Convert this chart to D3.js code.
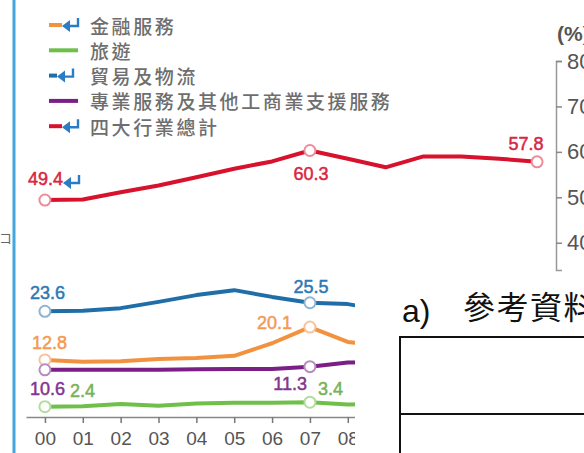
<!DOCTYPE html>
<html><head><meta charset="utf-8">
<script src="https://cdn.jsdelivr.net/npm/d3@7"></script>
<style>html,body{margin:0;padding:0;background:#fff;overflow:hidden}</style>
</head><body><svg id="c" width="584" height="453"></svg>
<script>
// ---- data ----
const years = ["00","01","02","03","04","05","06","07","08","09","10","11","12","13"];
const total        = [49.4,49.5,51.1,52.6,54.4,56.3,57.9,60.3,58.5,56.6,59.0,59.0,58.5,57.8];
const finance      = [12.8,12.4,12.5,13.0,13.2,13.7,16.5,20.1,16.8,15.9,16.3,16.1,15.9,16.5];
const tourism      = [2.4,2.5,3.0,2.6,3.1,3.3,3.3,3.4,2.9,3.0,3.3,4.5,4.7,5.0];
const trade        = [23.6,23.7,24.3,25.7,27.2,28.3,26.8,25.5,25.2,23.8,25.5,25.5,24.6,23.9];
const professional = [10.6,10.6,10.6,10.6,10.7,10.8,10.8,11.3,12.2,12.3,12.4,12.5,12.6,12.4];
const rightTicks = [40,50,60,70,80];
const seriesNames = ["金融服務","旅遊","貿易及物流","專業服務及其他工商業支援服務","四大行業總計"];
const labelledIdx = [0,7];

// ---- setup ----
const svg = d3.select("#c");
const colors = {finance:"#f2923f", tourism:"#6fbf4b", trade:"#1f6ea8", professional:"#7a1f86", total:"#d8112d"};
const pale = {finance:"#f7c49a", tourism:"#b3dc9f", trade:"#8fb4d2", professional:"#b98cc0", total:"#ec8c99"};
const labelColors = {finance:"#f39a52", tourism:"#74b35a", trade:"#2c79b5", professional:"#83358f", total:"#d9253f"};

const x = d3.scalePoint().domain(years).range([26,556]).padding(0.5);
const yUp = d3.scaleLinear().domain([34,80]).range([270,61]);
const yLow = d3.scaleLinear().domain([0,30]).range([417.5,282.5]);

// left blue border
svg.append("line").attr("x1",14).attr("x2",14).attr("y1",0).attr("y2",453)
  .attr("stroke","#45a6db").attr("stroke-width",3);
svg.append("text").attr("x",-1).attr("y",243).attr("font-family","Noto Sans CJK TC")
  .attr("font-size",13).attr("fill","#666").text("コ");

// lower x axis
const xAxis = svg.append("g").attr("transform","translate(0,417)")
  .call(d3.axisBottom(x).tickSize(6).tickSizeOuter(0).tickPadding(9));
xAxis.select(".domain").attr("stroke","#888").attr("stroke-width",1.5);
xAxis.selectAll(".tick line").attr("stroke","#777").attr("stroke-width",1.5);
xAxis.selectAll(".tick text").attr("font-family","Liberation Sans, Arial").attr("font-size",19)
  .attr("fill","#555");

// right axis (upper panel)
const rAxis = svg.append("g").attr("transform","translate(556,0)")
  .call(d3.axisRight(yUp).tickValues(rightTicks).tickSize(6).tickSizeOuter(6).tickPadding(5));
rAxis.select(".domain").attr("stroke","#999").attr("stroke-width",1.5);
rAxis.selectAll(".tick line").attr("stroke","#888").attr("stroke-width",1.5);
rAxis.selectAll(".tick text").attr("font-family","Liberation Sans, Arial").attr("font-size",22)
  .attr("fill","#555");
svg.append("text").attr("x",557).attr("y",41).attr("font-family","Liberation Sans, Arial")
  .attr("font-size",21).attr("font-weight","bold").attr("fill","#555").text("(%)");

// lines
const series = [
  {key:"trade", vals:trade, y:yLow},
  {key:"finance", vals:finance, y:yLow},
  {key:"professional", vals:professional, y:yLow},
  {key:"tourism", vals:tourism, y:yLow},
  {key:"total", vals:total, y:yUp}
];
series.forEach(s=>{
  const line = d3.line().x((d,i)=>x(years[i])).y(d=>s.y(d));
  svg.append("path").datum(s.vals).attr("d",line).attr("fill","none")
    .attr("stroke",colors[s.key]).attr("stroke-width",4).attr("stroke-linejoin","round");
});

// markers
series.forEach(s=>{
  const idx = s.key==="total" ? [0,7,13] : labelledIdx;
  idx.forEach(i=>{
    svg.append("circle").attr("cx",x(years[i])).attr("cy",s.y(s.vals[i])).attr("r",5.5)
      .attr("fill","#fff").attr("stroke",pale[s.key]).attr("stroke-width",2);
  });
});

// value labels
const labelSpecs = [
  {key:"trade", i:0, dx:-15, dy:-12, anchor:"start"},
  {key:"trade", i:7, dx:1, dy:-10, anchor:"middle"},
  {key:"finance", i:0, dx:-13, dy:-11, anchor:"start"},
  {key:"finance", i:7, dx:-18, dy:2, anchor:"end"},
  {key:"professional", i:0, dx:-15, dy:25, anchor:"start"},
  {key:"professional", i:7, dx:-3, dy:23, anchor:"end"},
  {key:"tourism", i:0, dx:25, dy:-10, anchor:"start"},
  {key:"tourism", i:7, dx:8, dy:-7, anchor:"start"},
  {key:"total", i:0, dx:-17, dy:-15, anchor:"start"},
  {key:"total", i:7, dx:1, dy:29, anchor:"middle"},
  {key:"total", i:13, dx:-11, dy:-12, anchor:"middle"}
];
const byKey = {}; series.forEach(s=>byKey[s.key]=s);
labelSpecs.forEach(l=>{
  const s = byKey[l.key];
  svg.append("text").attr("x",x(years[l.i])+l.dx).attr("y",s.y(s.vals[l.i])+l.dy)
    .attr("text-anchor",l.anchor).attr("font-family","Liberation Sans, Arial").attr("font-size",18)
    .attr("fill",labelColors[l.key]).attr("stroke",labelColors[l.key]).attr("stroke-width",0.5)
    .text(d3.format(".1f")(s.vals[l.i]));
});

// return-arrow glyph
function arrow(ax, ay){
  const g = svg.append("g").attr("transform",`translate(${ax},${ay})`);
  g.append("path").attr("d","M16,-7 V1 H6").attr("fill","none").attr("stroke","#2b7cc4").attr("stroke-width",2.4);
  g.append("path").attr("d","M0,1 L8,-5 L8,7 Z").attr("fill","#2b7cc4");
}
arrow(63,182);

// legend
const legendKeys = ["finance","tourism","trade","professional","total"];
const legendLineEnd = [62,78,57,78,62];
legendKeys.forEach((k,i)=>{
  const cy = 25 + i*25.3;
  svg.append("line").attr("x1",49).attr("x2",legendLineEnd[i]).attr("y1",cy).attr("y2",cy)
    .attr("stroke",colors[k]).attr("stroke-width",4);
  if(legendLineEnd[i] < 78) arrow(legendLineEnd[i], cy);
  svg.append("text").attr("x",90).attr("y",cy).attr("dominant-baseline","central")
    .attr("font-family","Noto Sans CJK TC").attr("font-size",19).attr("letter-spacing",2.6)
    .attr("font-weight",500).attr("fill","#6e6e6e").text(seriesNames[i]);
});

// overlapping document region
svg.append("rect").attr("x",355).attr("y",272).attr("width",229).attr("height",181).attr("fill","#fff");
svg.append("text").attr("x",402).attr("y",322).attr("font-family","Liberation Sans, Arial")
  .attr("font-size",32).attr("fill","#111").text("a)");
svg.append("text").attr("x",463).attr("y",319).attr("font-family","Noto Sans CJK TC")
  .attr("font-size",32).attr("letter-spacing",1.5).attr("fill","#111").text("參考資料");
svg.append("rect").attr("x",400).attr("y",337).attr("width",300).attr("height",200)
  .attr("fill","none").attr("stroke","#111").attr("stroke-width",2);
svg.append("line").attr("x1",400).attr("x2",700).attr("y1",414).attr("y2",414)
  .attr("stroke","#111").attr("stroke-width",2);
</script></body></html>
